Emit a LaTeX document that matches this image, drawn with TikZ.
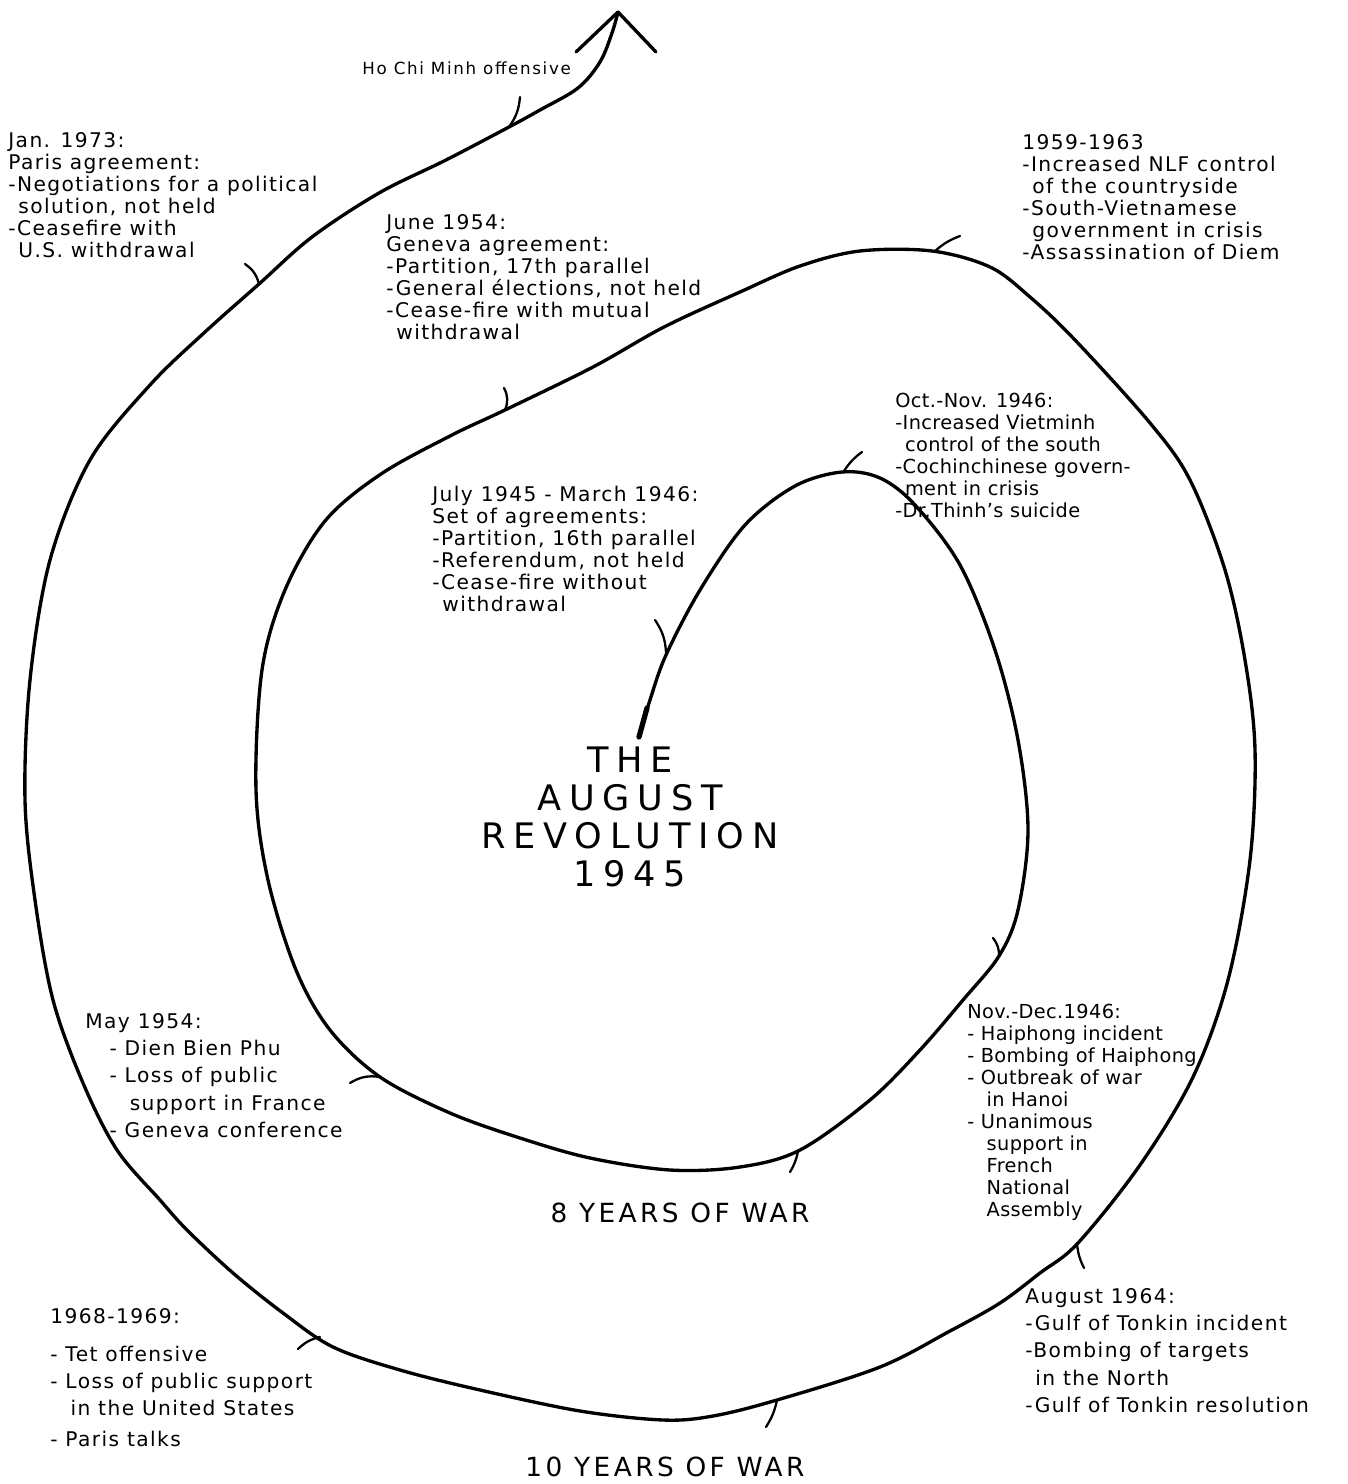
\documentclass[tikz,border=0pt]{standalone}
\usepackage{fontspec}
\setmainfont{DejaVu Sans}

\newcommand{\evtick}[5]{
    \draw[tickline] (#1,#2) to[bend left=#5] (#3,#4);
}

\tikzset{
  spiral/.style={line width=1.9pt, line cap=round, line join=round},
  tickline/.style={line width=1.3pt, line cap=round},
  note/.style={font=\fontsize{11.5}{12.5}\selectfont\addfontfeature{LetterSpace=7}, align=left, anchor=north west, inner sep=0pt},
  notetight/.style={note, font=\fontsize{11}{12.5}\selectfont\addfontfeature{LetterSpace=2}},
  notewide/.style={note, font=\fontsize{11.5}{15.5}\selectfont\addfontfeature{LetterSpace=7}},
  smallnote/.style={font=\fontsize{9.5}{11}\selectfont\addfontfeature{LetterSpace=10}, anchor=west, inner sep=0pt},
  title/.style={font=\fontsize{20}{21.5}\selectfont\addfontfeature{LetterSpace=22}, align=center, inner sep=0pt},
  warlabel/.style={font=\fontsize{15}{15}\selectfont\addfontfeature{LetterSpace=13}, inner sep=0pt}
}

\begin{document}
\begin{tikzpicture}[x=0.02cm, y=-0.02cm]

  \useasboundingbox (0,0) rectangle (1347,1484);

  % the spiral, from 1945 outwards
  \draw[spiral] plot[smooth, tension=0.55] coordinates {
    (639,737) (650,700) (666,655) (700,590) (745,525) (795,486) (842,472)
    (880,478) (915,505) (960,565) (995,650) (1018,740) (1028,830)
    (1018,910) (999,956) (963,1000) (920,1050) (870,1100) (800,1150)
    (740,1167) (670,1170) (590,1158) (520,1138) (450,1113) (380,1077)
    (330,1030) (296,970) (268,880) (256,790) (262,670) (285,590)
    (325,521) (381,474) (452,435) (505,410) (593,367) (664,327)
    (740,292) (800,266) (860,251) (932,251) (990,267) (1030,297)
    (1075,340) (1150,423) (1190,480) (1225,570) (1245,660)
    (1255,750) (1250,860) (1228,980) (1193,1077) (1140,1165) (1078,1243)
    (1040,1273) (1000,1303) (950,1331) (880,1367) (777,1400) (713,1416)
    (663,1420) (580,1411) (480,1390) (400,1370) (333,1347) (283,1313)
    (233,1273) (187,1230) (160,1200) (117,1150) (83,1083) (53,1000)
    (35,900) (25,800) (30,680) (50,560) (90,460) (150,385) (205,332)
    (259,284) (312,237) (379,193) (446,160) (509,127) (540,110)
    (578,88) (600,62) (612,33) (618,12)
  };
  \draw[spiral, line width=3pt] (639,737) -- (647,708);
  \draw[spiral] (576,52) -- (618,12) -- (656,52);

  % (x_curve, y_curve, x_end, y_end, bend)
  \evtick{666}{652}{655}{620}{-15}
  \evtick{844}{471}{862}{452}{10}
  \evtick{999}{957}{993}{938}{-20}
  \evtick{798}{1151}{790}{1172}{10}
  \evtick{380}{1077}{350}{1083}{-20}
  \evtick{505}{410}{504}{388}{-25}
  \evtick{935}{251}{960}{236}{10}
  \evtick{1077}{1244}{1084}{1268}{-10}
  \evtick{777}{1400}{766}{1427}{10}
  \evtick{320}{1337}{298}{1349}{-15}
  \evtick{259}{284}{245}{264}{-20}
  \evtick{509}{127}{520}{97}{-15}

  \node[title] (revolution) at (630,817) {THE\\AUGUST\\REVOLUTION\\1945};

  \node[warlabel] (war8) at (680,1213) {8 YEARS OF WAR};
  \node[warlabel] (war10) at (665,1467) {10 YEARS OF WAR};

  \node[smallnote] (hcm) at (362,68) {Ho Chi Minh offensive};

  \node[note] (jan73) at (8,132) {Jan. 1973:\\
    Paris agreement:\\
    -Negotiations for a political\\
    \hspace*{0.5em}solution, not held\\
    -Ceasefire with\\
    \hspace*{0.5em}U.S. withdrawal};

  \node[note] (y5963) at (1022,134) {1959-1963\\
    -Increased NLF control\\
    \hspace*{0.5em}of the countryside\\
    -South-Vietnamese\\
    \hspace*{0.5em}government in crisis\\
    -Assassination of Diem};

  \node[note] (jun54) at (386,214) {June 1954:\\
    Geneva agreement:\\
    -Partition, 17th parallel\\
    -General élections, not held\\
    -Cease-fire with mutual\\
    \hspace*{0.5em}withdrawal};

  \node[notetight] (octnov46) at (895,393) {Oct.-Nov. 1946:\\
    -Increased Vietminh\\
    \hspace*{0.5em}control of the south\\
    -Cochinchinese govern-\\
    \hspace*{0.5em}ment in crisis\\
    -Dr.Thinh's suicide};

  \node[note] (jul45) at (432,486) {July 1945 - March 1946:\\
    Set of agreements:\\
    -Partition, 16th parallel\\
    -Referendum, not held\\
    -Cease-fire without\\
    \hspace*{0.5em}withdrawal};

  \node[notewide] (may54) at (85,1013) {May 1954:\\
    \hspace*{1.2em}- Dien Bien Phu\\
    \hspace*{1.2em}- Loss of public\\
    \hspace*{2.2em}support in France\\
    \hspace*{1.2em}- Geneva conference};

  \node[notetight] (novdec46) at (967,1004) {Nov.-Dec.1946:\\
    - Haiphong incident\\
    - Bombing of Haiphong\\
    - Outbreak of war\\
    \hspace*{1em}in Hanoi\\
    - Unanimous\\
    \hspace*{1em}support in\\
    \hspace*{1em}French\\
    \hspace*{1em}National\\
    \hspace*{1em}Assembly};

  \node[notewide] (y6869) at (50,1308) {1968-1969:\\[6pt]
    - Tet offensive\\
    - Loss of public support\\
    \hspace*{1em}in the United States\\[2pt]
    - Paris talks};

  \node[notewide] (aug64) at (1025,1288) {August 1964:\\
    -Gulf of Tonkin incident\\
    -Bombing of targets\\
    \hspace*{0.5em}in the North\\
    -Gulf of Tonkin resolution};

\end{tikzpicture}
\end{document}
